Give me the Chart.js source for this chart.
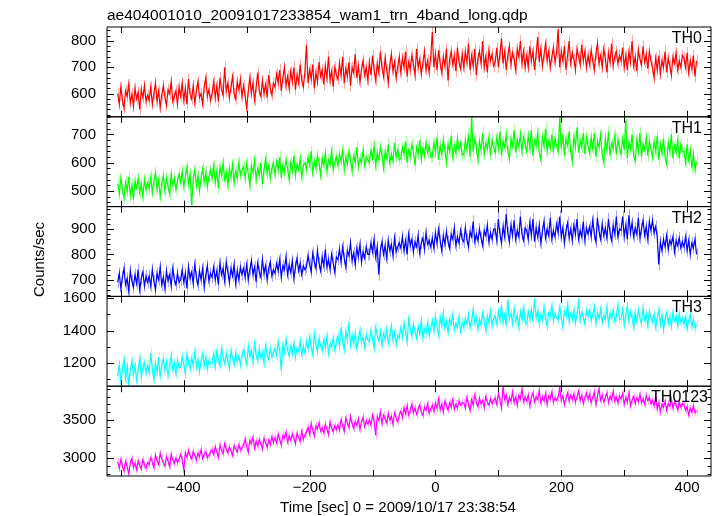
<!DOCTYPE html>
<html>
<head>
<meta charset="utf-8">
<script src="https://cdn.jsdelivr.net/npm/chart.js@4.4.1/dist/chart.umd.min.js"></script>
<style>
  html, body { margin: 0; padding: 0; background: #fff; }
  #wrap { width: 717px; height: 516px; }
</style>
</head>
<body>
<div id="wrap"><canvas id="lc" width="717" height="516"></canvas></div>
<script>
// light curve, 2.5 s bins starting at -505 s
var T0 = -505, BIN = 2.5, NBIN = 369;
var times = [];
for (var i = 0; i < NBIN; i++) times.push(T0 + i * BIN);

var th0 = [
  600,560,625,575,545,610,590,635,565,598,552,620,580,605,540,615,585,630,570,595,
  575,625,560,600,640,572,610,548,595,630,585,555,615,600,645,570,590,610,560,625,
  590,640,575,620,560,655,598,580,630,565,610,645,585,600,560,625,660,590,615,575,
  600,645,585,630,570,660,615,595,700,610,640,585,625,665,600,580,645,615,655,590,
  630,590,545,610,660,600,640,575,625,680,610,590,650,600,635,585,670,620,595,640,
  625,675,640,690,610,660,700,630,665,620,685,645,700,615,670,640,710,650,625,680,
  785,640,690,655,710,620,680,645,720,665,690,635,705,660,740,650,685,625,700,670,
  655,715,670,740,640,695,665,720,630,700,680,750,660,705,645,690,725,670,700,650,
  720,670,745,690,650,715,680,760,700,665,735,690,640,710,750,685,720,660,700,740,
  680,735,700,760,665,720,690,745,710,670,770,700,730,675,715,760,690,725,680,740,
  835,700,750,690,765,715,680,740,705,770,650,730,760,710,745,685,775,720,695,750,
  700,760,720,790,690,745,705,770,670,735,760,715,800,700,740,680,765,725,750,705,
  720,775,700,750,810,715,760,690,745,780,710,755,730,690,770,740,800,715,760,700,
  745,700,780,725,760,690,750,815,720,770,705,745,790,725,760,700,740,775,720,755,
  845,700,760,725,780,690,745,800,715,755,730,690,770,740,710,785,725,760,700,745,
  710,765,725,690,750,790,715,745,700,770,735,680,755,720,790,705,740,760,715,745,
  725,775,700,745,690,760,720,800,705,740,685,765,730,710,780,720,750,695,760,725,
  700,660,735,690,745,675,725,700,760,680,735,705,670,740,715,755,690,725,700,745,
  735,700,755,680,725,695,745,665,725
];
var th1 = [
  525,490,545,505,475,530,500,550,485,520,470,535,510,545,495,525,480,540,505,530,
  510,550,495,535,565,505,540,480,525,555,500,545,515,490,560,520,545,505,535,560,
  530,570,515,550,585,525,560,450,540,575,520,555,500,545,580,530,565,515,550,575,
  545,590,530,570,510,585,555,600,540,565,520,580,550,595,530,570,545,600,555,575,
  585,545,600,560,520,590,565,610,540,580,555,600,525,575,615,560,590,545,580,600,
  560,605,575,620,545,590,565,610,580,540,600,570,625,555,595,575,615,550,590,600,
  575,620,590,640,565,605,580,625,600,555,615,590,635,570,610,595,640,575,600,620,
  590,630,605,645,575,620,595,640,610,570,625,600,655,585,615,600,645,590,620,610,
  600,645,615,660,590,635,610,655,625,580,640,615,665,600,630,605,670,620,645,610,
  615,655,630,675,600,645,620,665,640,590,655,630,680,610,650,625,670,635,660,620,
  620,670,635,690,610,660,630,680,645,600,665,640,695,620,660,635,685,645,670,625,
  630,680,645,700,620,760,640,685,655,610,675,645,705,630,670,650,690,625,680,655,
  635,690,650,710,625,675,655,700,640,615,685,660,715,635,680,655,700,640,690,665,
  640,695,650,715,625,680,660,705,635,610,690,660,720,640,675,650,700,635,685,660,
  640,760,650,700,625,685,660,710,640,605,690,655,725,635,680,655,705,630,690,660,
  635,690,650,705,620,675,655,700,630,600,685,645,710,625,670,650,695,630,680,655,
  630,685,645,750,615,670,650,700,625,605,680,640,705,620,665,645,690,625,675,650,
  620,675,640,695,610,665,635,685,620,595,670,640,700,615,660,635,680,615,665,640,
  640,600,665,610,645,580,630,575,605
];
var th2 = [
  690,725,665,710,745,680,705,655,735,695,670,720,685,740,660,705,730,675,715,690,
  715,675,740,695,660,725,700,750,680,710,665,735,695,720,675,745,700,680,725,690,
  700,740,690,725,665,750,705,730,685,760,710,680,735,700,745,670,720,755,695,725,
  710,750,700,735,680,765,720,745,695,770,730,690,745,715,760,685,735,700,750,720,
  745,710,760,700,740,775,720,750,690,765,730,710,780,725,755,700,745,770,715,740,
  725,765,735,780,710,755,740,790,720,760,730,775,705,750,785,735,765,720,755,740,
  750,795,760,730,805,770,745,815,765,735,790,755,820,750,780,740,800,765,730,790,
  780,820,770,830,785,750,815,795,845,775,805,760,825,790,840,770,810,785,830,800,
  800,845,810,860,790,830,720,815,850,800,835,785,855,815,840,795,865,810,830,845,
  825,870,815,855,800,880,835,860,810,850,830,875,805,845,865,820,885,840,855,830,
  865,825,885,845,900,855,815,875,840,890,850,825,880,860,905,835,870,845,895,860,
  850,905,860,830,890,870,930,850,880,855,900,865,835,895,875,915,850,885,860,900,
  900,855,940,880,845,910,870,960,885,850,915,875,935,860,895,870,950,880,855,905,
  895,860,925,875,940,850,905,870,915,845,890,930,865,900,875,945,860,895,870,920,
  885,950,870,905,845,895,925,865,900,855,915,880,940,860,895,870,930,855,905,880,
  910,870,935,880,850,945,890,860,920,875,905,865,940,885,855,915,880,950,870,900,
  895,950,870,915,860,955,885,925,870,905,880,945,865,900,935,875,910,860,930,895,
  935,885,910,870,760,850,815,860,830,875,820,855,840,870,810,855,835,865,825,850,
  830,870,815,855,800,845,825,860,800
];
var th3 = [
  1120,1190,1080,1165,1220,1100,1175,1065,1150,1210,1125,1180,1090,1160,1230,1110,1170,1200,1135,1185,
  1140,1260,1160,1095,1200,1145,1235,1110,1190,1225,1150,1205,1120,1180,1245,1155,1195,1130,1215,1170,
  1170,1240,1190,1130,1250,1205,1160,1230,1185,1265,1175,1220,1145,1210,1255,1180,1235,1160,1215,1195,
  1200,1255,1175,1270,1215,1180,1290,1230,1195,1255,1210,1170,1275,1225,1190,1260,1205,1240,1185,1250,
  1280,1225,1190,1300,1240,1275,1205,1320,1250,1215,1285,1230,1265,1195,1305,1245,1220,1290,1235,1260,
  1290,1245,1330,1270,1150,1310,1265,1345,1280,1240,1305,1255,1320,1235,1290,1270,1335,1250,1300,1260,
  1330,1285,1360,1300,1250,1380,1315,1270,1350,1305,1275,1340,1295,1365,1260,1320,1300,1355,1280,1330,
  1365,1300,1420,1335,1280,1390,1340,1455,1310,1370,1320,1385,1290,1350,1400,1325,1360,1295,1375,1340,
  1330,1400,1350,1290,1420,1370,1335,1395,1310,1380,1345,1410,1320,1375,1430,1340,1390,1315,1370,1355,
  1420,1360,1445,1390,1330,1470,1405,1365,1440,1395,1350,1425,1380,1460,1355,1410,1385,1450,1370,1415,
  1460,1400,1490,1425,1370,1480,1430,1510,1415,1455,1390,1470,1435,1500,1405,1445,1420,1485,1395,1450,
  1420,1475,1440,1500,1420,1465,1530,1445,1485,1410,1470,1435,1510,1455,1400,1490,1450,1520,1430,1475,
  1490,1440,1520,1465,1560,1450,1500,1430,1590,1475,1505,1445,1535,1460,1495,1420,1515,1470,1540,1455,
  1440,1515,1470,1530,1455,1600,1480,1520,1440,1500,1465,1545,1475,1425,1510,1490,1555,1460,1505,1480,
  1465,1545,1480,1420,1520,1490,1560,1455,1505,1470,1530,1445,1500,1580,1465,1515,1485,1440,1525,1490,
  1525,1460,1500,1550,1445,1510,1475,1535,1450,1495,1470,1545,1440,1505,1480,1525,1455,1490,1560,1470,
  1470,1530,1435,1500,1555,1460,1515,1480,1420,1510,1455,1525,1475,1445,1540,1465,1500,1430,1520,1480,
  1455,1500,1420,1480,1530,1440,1495,1405,1470,1510,1445,1485,1425,1515,1460,1490,1430,1505,1450,1475,
  1440,1485,1410,1460,1500,1425,1470,1415,1435
];
var th0123 = [
  2950,2870,2985,2900,2835,2960,2890,2800,2940,2995,2880,2935,2850,2965,2905,2860,2980,2915,2870,2945,
  2920,3010,2950,2880,3040,2970,2920,3060,2990,2940,2900,3020,2960,2890,3050,2975,2930,3000,2945,2985,
  3050,2980,2850,3070,3010,3100,3030,2990,3090,3040,2975,3065,3020,3110,2995,3055,3080,3005,3045,3075,
  3110,3050,3150,3080,3010,3170,3100,3060,3190,3120,3070,3145,3095,3035,3165,3115,3080,3175,3105,3140,
  3170,3250,3150,3080,3230,3190,3270,3130,3220,3160,3245,3185,3120,3260,3200,3145,3235,3175,3280,3205,
  3270,3200,3310,3240,3170,3300,3260,3340,3210,3290,3235,3315,3255,3190,3325,3270,3220,3350,3245,3300,
  3340,3400,3310,3450,3360,3290,3420,3380,3460,3350,3395,3330,3440,3375,3310,3465,3390,3345,3420,3370,
  3430,3370,3500,3420,3350,3520,3460,3400,3540,3450,3390,3480,3425,3510,3375,3465,3530,3410,3490,3445,
  3500,3430,3560,3480,3300,3540,3490,3600,3450,3560,3510,3460,3580,3495,3545,3440,3590,3520,3475,3560,
  3610,3530,3650,3580,3680,3560,3620,3700,3590,3650,3570,3640,3690,3600,3555,3665,3620,3705,3585,3640,
  3690,3610,3720,3650,3770,3630,3700,3600,3740,3680,3625,3720,3665,3760,3640,3705,3655,3745,3690,3720,
  3720,3650,3790,3700,3620,3760,3690,3820,3730,3670,3780,3705,3750,3660,3800,3725,3690,3770,3710,3755,
  3780,3700,3840,3750,3650,3930,3760,3820,3700,3790,3740,3860,3725,3795,3690,3815,3770,3900,3735,3800,
  3740,3820,3680,3790,3850,3730,3800,3760,3880,3720,3795,3745,3840,3700,3810,3770,3860,3725,3785,3750,
  3790,3920,3750,3810,3700,3780,3850,3740,3820,3760,3835,3725,3800,3870,3750,3815,3710,3790,3845,3765,
  3830,3720,3790,3860,3700,3800,3900,3750,3820,3730,3785,3850,3725,3805,3760,3870,3740,3795,3720,3810,
  3770,3840,3700,3790,3730,3850,3680,3760,3800,3710,3785,3735,3830,3720,3770,3700,3815,3745,3790,3705,
  3750,3680,3790,3640,3720,3600,3700,3660,3740,3620,3710,3675,3765,3650,3725,3690,3630,3735,3665,3710,
  3690,3620,3670,3560,3650,3600,3680,3590,3615
];

var bandNames = ['TH0', 'TH1', 'TH2', 'TH3', 'TH0123'];
var bandColors = ['#ff0000', '#00ff00', '#0000ff', '#00ffff', '#ff00ff'];
var bandErrColors = ['rgba(255,0,0,0.35)', 'rgba(0,255,0,0.35)', 'rgba(0,0,255,0.35)',
  'rgba(0,255,255,0.35)', 'rgba(255,0,255,0.35)'];
var bandSeries = [th0, th1, th2, th3, th0123];
// typical 1-sigma error per bin (counts/sec)
var bandErr = [22, 21, 24, 32, 50];

// labelled y ticks per panel, and the minor tick step
var yMajor = [
  [600, 700, 800],
  [500, 600, 700],
  [700, 800, 900],
  [1200, 1400, 1600],
  [3000, 3500]
];
var yMinorStep = [20, 20, 20, 100, 100];
var yRange = [[512, 853], [445, 762], [634, 989], [1054, 1612], [2769, 3935]];

var xMajor = [-400, -200, 0, 200, 400];
var xTickStep = 100;

var title = 'ae404001010_20091017233854_wam1_trn_4band_long.qdp';
var xTitle = 'Time [sec] 0 = 2009/10/17 23:38:54';
var yTitle = 'Counts/sec';

var FONT = '"Liberation Sans", Arial, Helvetica, sans-serif';

var datasets = bandSeries.map(function (vals, k) {
  return {
    label: bandNames[k],
    data: times.map(function (t, i) { return { x: t, y: vals[i] }; }),
    yAxisID: 'y' + k,
    borderColor: bandColors[k],
    borderWidth: 1.2,
    pointRadius: 0,
    tension: 0
  };
});

var scales = {
  x: {
    type: 'linear', position: 'bottom',
    min: -522, max: 438,
    grid: { display: false, drawTicks: false },
    border: { display: false },
    afterBuildTicks: function (s) { s.ticks = xMajor.map(function (v) { return { value: v }; }); },
    afterFit: function (s) { s.height = 40; },
    ticks: {
      color: '#000', padding: 3, autoSkip: false, maxRotation: 0,
      font: { family: FONT, size: 15 },
      callback: function (v) { return v < 0 ? '\u2212' + Math.abs(v) : String(v); }
    }
  }
};
bandNames.forEach(function (n, k) {
  scales['y' + k] = {
    type: 'linear', position: 'left', stack: 'panels', stackWeight: 1,
    weight: bandNames.length - k,
    min: yRange[k][0], max: yRange[k][1],
    grid: { display: false, drawTicks: false },
    border: { display: false },
    afterBuildTicks: function (s) { s.ticks = yMajor[k].map(function (v) { return { value: v }; }); },
    afterFit: function (s) { s.width = 60; },
    ticks: {
      color: '#000', padding: 11, autoSkip: false,
      font: { family: FONT, size: 15 },
      callback: function (v) { return String(v); }
    }
  };
});

// y error bars, drawn under the lines
var errBars = {
  id: 'errBars',
  beforeDatasetsDraw: function (chart) {
    var ctx = chart.ctx, xs = chart.scales.x;
    ctx.save();
    ctx.lineWidth = 1;
    bandSeries.forEach(function (vals, k) {
      var s = chart.scales['y' + k];
      ctx.strokeStyle = bandErrColors[k];
      ctx.beginPath();
      vals.forEach(function (v, i) {
        var px = Math.round(xs.getPixelForValue(times[i])) + 0.5;
        var hi = Math.max(s.getPixelForValue(v + bandErr[k]), s.top);
        var lo = Math.min(s.getPixelForValue(v - bandErr[k]), s.bottom);
        ctx.moveTo(px, hi); ctx.lineTo(px, lo);
      });
      ctx.stroke();
    });
    ctx.restore();
  }
};

// frames, inward ticks, band names and titles (qdp style)
var qdpFrame = {
  id: 'qdpFrame',
  afterDraw: function (chart) {
    var ctx = chart.ctx, a = chart.chartArea, xs = chart.scales.x;
    ctx.save();
    ctx.strokeStyle = '#000';
    ctx.lineWidth = 1;
    ctx.beginPath();
    bandNames.forEach(function (n, k) {
      var s = chart.scales['y' + k];
      var top = s.top, bot = s.bottom;
      ctx.rect(a.left, top, a.right - a.left, bot - top);
      var step = yMinorStep[k];
      for (var v = Math.ceil(s.min / step) * step; v <= s.max; v += step) {
        var py = Math.round(s.getPixelForValue(v)) + 0.5;
        var len = yMajor[k].indexOf(v) >= 0 ? 7 : 3.5;
        ctx.moveTo(a.left, py); ctx.lineTo(a.left + len, py);
        ctx.moveTo(a.right, py); ctx.lineTo(a.right - len, py);
      }
      for (var t = Math.ceil(xs.min / xTickStep) * xTickStep; t <= xs.max; t += xTickStep) {
        var px = Math.round(xs.getPixelForValue(t)) + 0.5;
        ctx.moveTo(px, top); ctx.lineTo(px, top + 6);
        ctx.moveTo(px, bot); ctx.lineTo(px, bot - 6);
      }
    });
    ctx.stroke();

    ctx.fillStyle = '#000';
    ctx.font = '16px ' + FONT;
    ctx.textBaseline = 'alphabetic';
    ctx.textAlign = 'right';
    bandNames.forEach(function (n, k) {
      var s = chart.scales['y' + k];
      ctx.fillText(n, n.length > 3 ? 708 : 702, s.top + 16);
    });
    ctx.textAlign = 'left';
    ctx.font = '15.5px ' + FONT;
    ctx.fillText(title, a.left, 20);
    ctx.font = '15px ' + FONT;
    ctx.textAlign = 'center';
    ctx.fillText(xTitle, 398, 512);
    ctx.translate(44, (a.top + a.bottom) / 2 + 8);
    ctx.rotate(-Math.PI / 2);
    ctx.fillText(yTitle, 0, 0);
    ctx.restore();
  }
};

new Chart(document.getElementById('lc'), {
  type: 'line',
  data: { datasets: datasets },
  options: {
    responsive: false,
    animation: false,
    layout: { padding: { left: 47, right: 6, top: 27, bottom: 0 } },
    plugins: { legend: { display: false }, tooltip: { enabled: false }, title: { display: false } },
    scales: scales
  },
  plugins: [errBars, qdpFrame]
});
</script>
</body>
</html>
